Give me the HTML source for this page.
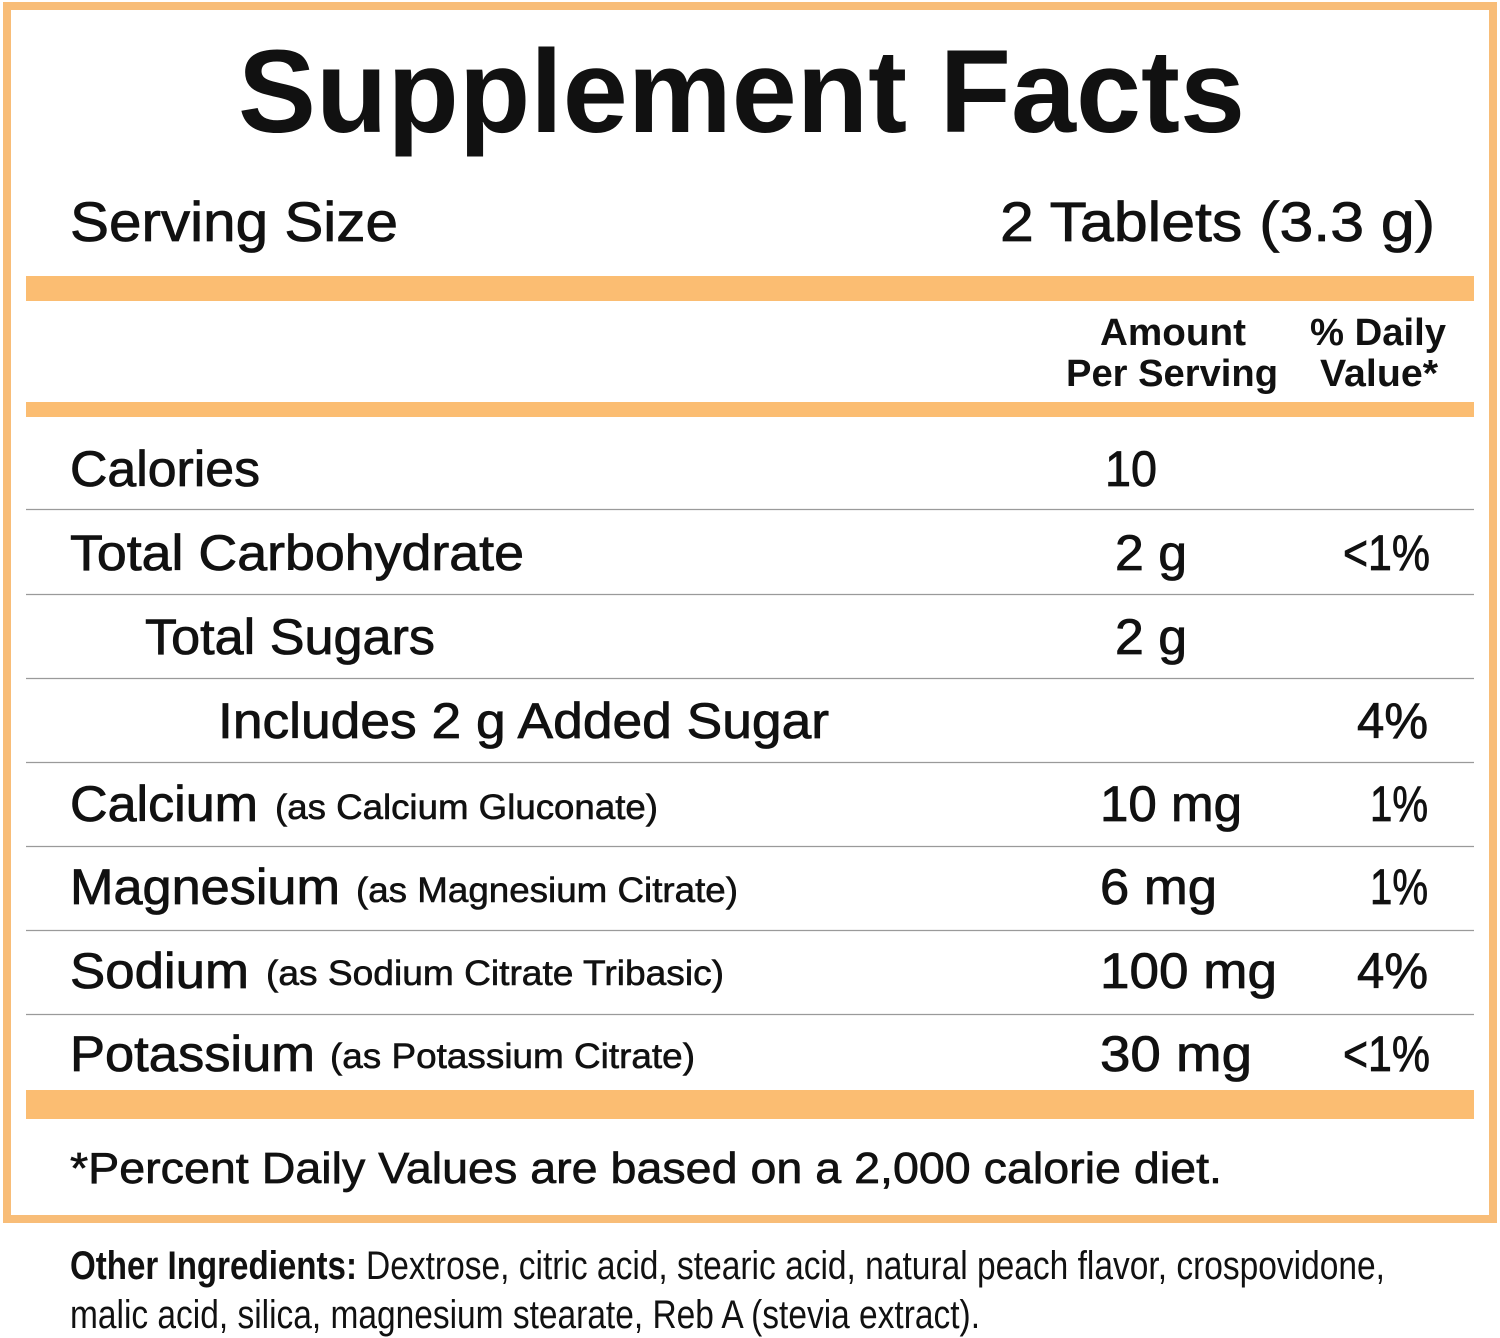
<!DOCTYPE html>
<html><head><style>html,body{margin:0;padding:0;background:#fff}svg{display:block}</style></head>
<body>
<svg width="1500" height="1338" viewBox="0 0 1500 1338" xmlns="http://www.w3.org/2000/svg" font-family="Liberation Sans, sans-serif" fill="#111">
<rect x="7" y="6" width="1486" height="1213" fill="none" stroke="#f8bd78" stroke-width="8"/>
<rect x="26" y="276" width="1448" height="25" fill="#fbbd72"/>
<rect x="26" y="402" width="1448" height="15" fill="#fbbd72"/>
<rect x="26" y="1090" width="1448" height="29" fill="#fbbd72"/>
<g stroke="#9a9a9a" stroke-width="1.3">
<line x1="26" y1="509.5" x2="1474" y2="509.5"/><line x1="26" y1="594.5" x2="1474" y2="594.5"/>
<line x1="26" y1="678.5" x2="1474" y2="678.5"/><line x1="26" y1="762.5" x2="1474" y2="762.5"/>
<line x1="26" y1="846.5" x2="1474" y2="846.5"/><line x1="26" y1="930.5" x2="1474" y2="930.5"/>
<line x1="26" y1="1014.5" x2="1474" y2="1014.5"/>
</g>
<text x="238" y="132" font-size="118" font-weight="bold" textLength="1007" lengthAdjust="spacingAndGlyphs">Supplement Facts</text>
<g font-size="56" stroke="#111" stroke-width="0.8">
<text x="70" y="241" textLength="328" lengthAdjust="spacingAndGlyphs">Serving Size</text>
<text x="1000" y="241" textLength="435" lengthAdjust="spacingAndGlyphs">2 Tablets (3.3 g)</text>
</g>
<g font-size="38" font-weight="bold">
<text x="1100" y="345" textLength="146" lengthAdjust="spacingAndGlyphs">Amount</text>
<text x="1066" y="386" textLength="212" lengthAdjust="spacingAndGlyphs">Per Serving</text>
<text x="1310" y="345" textLength="136" lengthAdjust="spacingAndGlyphs">% Daily</text>
<text x="1320" y="386" textLength="118" lengthAdjust="spacingAndGlyphs">Value*</text>
</g>
<g font-size="50" stroke="#111" stroke-width="0.8">
<text x="70" y="486" textLength="190" lengthAdjust="spacingAndGlyphs">Calories</text>
<text x="1105" y="486" textLength="52" lengthAdjust="spacingAndGlyphs">10</text>
<text x="70" y="570" textLength="454" lengthAdjust="spacingAndGlyphs">Total Carbohydrate</text>
<text x="1115" y="570" textLength="72" lengthAdjust="spacingAndGlyphs">2 g</text>
<text x="1343" y="570" textLength="87" lengthAdjust="spacingAndGlyphs">&lt;1%</text>
<text x="145" y="654" textLength="290" lengthAdjust="spacingAndGlyphs">Total Sugars</text>
<text x="1115" y="654" textLength="72" lengthAdjust="spacingAndGlyphs">2 g</text>
<text x="218" y="738" textLength="611" lengthAdjust="spacingAndGlyphs">Includes 2 g Added Sugar</text>
<text x="1357" y="738" textLength="71" lengthAdjust="spacingAndGlyphs">4%</text>
<text x="70" y="821" textLength="188" lengthAdjust="spacingAndGlyphs">Calcium</text>
<text x="1100" y="821" textLength="142" lengthAdjust="spacingAndGlyphs">10 mg</text>
<text x="1370" y="821" textLength="58" lengthAdjust="spacingAndGlyphs">1%</text>
<text x="70" y="904" textLength="270" lengthAdjust="spacingAndGlyphs">Magnesium</text>
<text x="1100" y="904" textLength="117" lengthAdjust="spacingAndGlyphs">6 mg</text>
<text x="1370" y="904" textLength="58" lengthAdjust="spacingAndGlyphs">1%</text>
<text x="70" y="988" textLength="179" lengthAdjust="spacingAndGlyphs">Sodium</text>
<text x="1100" y="988" textLength="177" lengthAdjust="spacingAndGlyphs">100 mg</text>
<text x="1357" y="988" textLength="71" lengthAdjust="spacingAndGlyphs">4%</text>
<text x="70" y="1071" textLength="245" lengthAdjust="spacingAndGlyphs">Potassium</text>
<text x="1100" y="1071" textLength="152" lengthAdjust="spacingAndGlyphs">30 mg</text>
<text x="1343" y="1071" textLength="87" lengthAdjust="spacingAndGlyphs">&lt;1%</text>
</g>
<g font-size="35" stroke="#111" stroke-width="0.6">
<text x="275" y="819" textLength="383" lengthAdjust="spacingAndGlyphs">(as Calcium Gluconate)</text>
<text x="356" y="902" textLength="382" lengthAdjust="spacingAndGlyphs">(as Magnesium Citrate)</text>
<text x="266" y="985" textLength="458" lengthAdjust="spacingAndGlyphs">(as Sodium Citrate Tribasic)</text>
<text x="330" y="1068" textLength="365" lengthAdjust="spacingAndGlyphs">(as Potassium Citrate)</text>
</g>
<text x="70" y="1183" font-size="44" stroke="#111" stroke-width="0.7" textLength="1152" lengthAdjust="spacingAndGlyphs">*Percent Daily Values are based on a 2,000 calorie diet.</text>
<g font-size="40">
<text x="70" y="1279" font-weight="bold" textLength="287" lengthAdjust="spacingAndGlyphs">Other Ingredients:</text>
<text x="366" y="1279" textLength="1019" lengthAdjust="spacingAndGlyphs">Dextrose, citric acid, stearic acid, natural peach flavor, crospovidone,</text>
<text x="70" y="1328" textLength="910" lengthAdjust="spacingAndGlyphs">malic acid, silica, magnesium stearate, Reb A (stevia extract).</text>
</g>
</svg>
</body></html>
